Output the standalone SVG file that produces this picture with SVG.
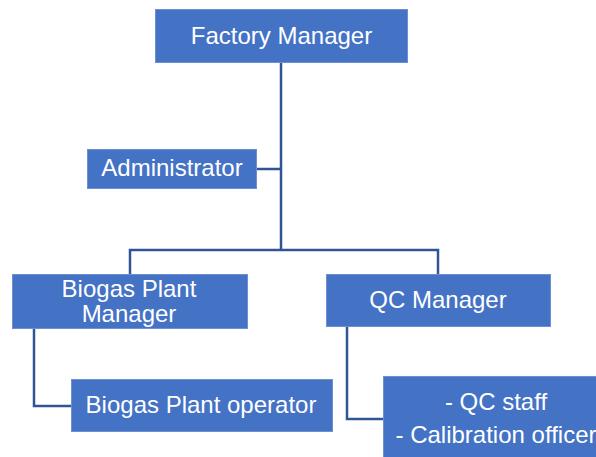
<svg xmlns="http://www.w3.org/2000/svg" width="596" height="457" viewBox="0 0 596 457">
<style>
.box{fill:#4472C4;stroke:#6E8FD0;stroke-width:1}
.t{font-family:"Liberation Sans",Arial,sans-serif;font-size:24px;fill:#FFFFFF;text-anchor:middle}
.c{fill:none;stroke:#2F5597;stroke-width:2.5}
</style>
<rect width="596" height="457" fill="#FFFFFF"/>
<g id="connectors">
<path class="c" d="M281 62 V250"/>
<path class="c" d="M256 169 H281"/>
<path class="c" d="M130 274 V250 H438 V274"/>
<path class="c" d="M34 329 V406 H71"/>
<path class="c" d="M347 327 V419 H383"/>
</g>
<g id="factory-manager">
<rect class="box" x="155.5" y="9.5" width="252" height="53"/>
<text class="t" x="281.5" y="44">Factory Manager</text>
</g>
<g id="administrator">
<rect class="box" x="87.5" y="149.5" width="169" height="39"/>
<text class="t" x="172" y="176">Administrator</text>
</g>
<g id="biogas-plant-manager">
<rect class="box" x="12.5" y="274.5" width="235" height="54"/>
<text class="t" x="129" y="297">Biogas Plant</text>
<text class="t" x="129" y="322">Manager</text>
</g>
<g id="qc-manager">
<rect class="box" x="326.5" y="274.5" width="224" height="52"/>
<text class="t" x="438" y="308">QC Manager</text>
</g>
<g id="biogas-plant-operator">
<rect class="box" x="71.5" y="379.5" width="261" height="52"/>
<text class="t" x="201" y="413">Biogas Plant operator</text>
</g>
<g id="qc-staff">
<rect class="box" x="383.5" y="376.5" width="226" height="90"/>
<text class="t" x="496" y="410">- QC staff</text>
<text class="t" x="496" y="443">- Calibration officer</text>
</g>
</svg>
